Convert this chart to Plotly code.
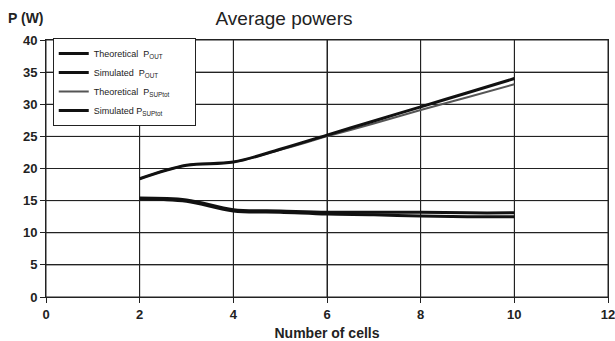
import plotly.graph_objects as go

x_cells = [2, 3, 4, 5, 6, 7, 8, 9, 10]
theo_pout = [15.4, 15.1, 13.6, 13.4, 13.2, 13.2, 13.2, 13.1, 13.1]
sim_pout = [15.3, 14.9, 13.4, 13.2, 12.9, 12.8, 12.6, 12.5, 12.5]
theo_psup = [18.4, 20.5, 21.0, 22.9, 25.0, 27.0, 29.1, 31.1, 33.1]
sim_psup = [18.4, 20.5, 21.0, 23.0, 25.2, 27.4, 29.6, 31.8, 34.0]

x_ticks = [0, 2, 4, 6, 8, 10, 12]
y_ticks = [0, 5, 10, 15, 20, 25, 30, 35, 40]

series = [
    ("Theoretical  P<sub>OUT</sub>", theo_pout, "#111111", 3),
    ("Simulated  P<sub>OUT</sub>", sim_pout, "#111111", 3),
    ("Theoretical  P<sub>SUPtot</sub>" + "&nbsp;" * 8, theo_psup, "#555555", 2),
    ("Simulated P<sub>SUPtot</sub>", sim_psup, "#111111", 3),
]

fig = go.Figure()
for name, ys, col, w in series:
    fig.add_trace(go.Scatter(x=x_cells, y=ys, mode="lines", name=name,
                             line=dict(color=col, width=w, shape="spline")))

# grid lines at the tick values
for xv in x_ticks:
    fig.add_shape(type="line", xref="x", yref="y domain", x0=xv, x1=xv, y0=0, y1=1,
                  line=dict(color="#222222", width=1), layer="below")
for yv in y_ticks:
    fig.add_shape(type="line", xref="x domain", yref="y", x0=0, x1=1, y0=yv, y1=yv,
                  line=dict(color="#222222", width=1), layer="below")

axis_common = dict(showgrid=True, gridcolor="#222222", gridwidth=1,
                   showline=True, linecolor="#222222", linewidth=1, mirror=True,
                   ticks="outside", ticklen=5, tickcolor="#222222", zeroline=False,
                   ticklabeloverflow="allow",
                   tickfont=dict(size=13, color="#222222", weight="bold"))

fig.update_layout(
    template="none",
    width=615, height=341,
    margin=dict(l=46, r=7, t=40, b=44, pad=0),
    paper_bgcolor="white", plot_bgcolor="white",
    font=dict(family="Arial, Liberation Sans, sans-serif", color="#222222", size=12),
    title=dict(text="Average powers", x=284/615, xanchor="center", y=1-18/341, yanchor="middle",
               font=dict(size=19, color="#222222")),
    showlegend=True,
    legend=dict(x=0.012, y=1.008, xanchor="left", yanchor="top", bgcolor="white",
                bordercolor="#222222", borderwidth=1, font=dict(size=9, color="#222222"),
                tracegroupgap=0, itemwidth=30),
    xaxis=dict(range=[0, 12], tickmode="linear", tick0=0, dtick=2,
               title=dict(text="<b>Number of cells</b>", font=dict(size=14), standoff=8),
               **axis_common),
    yaxis=dict(range=[0, 40], tickmode="linear", tick0=0, dtick=5, **axis_common),
    annotations=[dict(text="<b>P (W)</b>", xref="paper", yref="paper",
                      x=-40/562, y=1+22/257, xanchor="left", yanchor="middle",
                      showarrow=False, font=dict(size=14, color="#222222"))],
)

fig.write_html("out.html")
